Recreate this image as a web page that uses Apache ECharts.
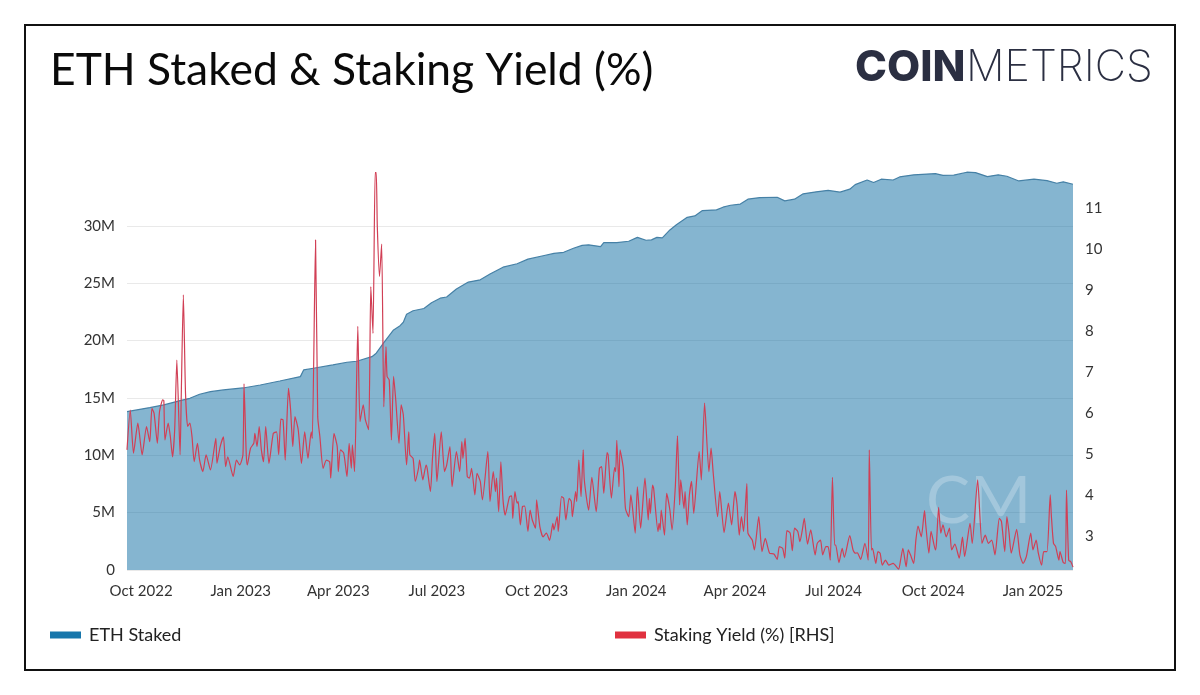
<!DOCTYPE html>
<html>
<head>
<meta charset="utf-8">
<title>ETH Staked & Staking Yield (%)</title>
<script src="https://cdn.jsdelivr.net/npm/echarts@6/dist/echarts.min.js"></script>
<style>
html, body { margin: 0; padding: 0; background: #fff; }
#main { width: 1200px; height: 695px; }
</style>
</head>
<body>
<div id="main"></div>
<script>
// days counted from 18 Sep 2022
var stakedDays = [0,21,34,49,58,67,77,89,107,123,141,160,163,172,190,203,212,226,230,237,246,252,255,258,264,274,281,289,295,304,315,326,335,347,360,370,384,394,403,412,420,426,437,440,452,463,471,479,484,489,494,501,507,517,524,531,544,550,557,566,573,584,600,607,616,624,636,647,658,667,672,683,689,696,707,713,726,746,753,763,775,783,794,804,812,823,837,849,858,864,873];
var stakedValues = [13.8,14.16,14.39,14.77,14.97,15.32,15.55,15.7,15.87,16.13,16.48,16.86,17.44,17.59,17.88,18.11,18.2,18.6,18.9,19.83,20.93,21.3,21.6,22.3,22.6,22.8,23.3,23.7,23.8,24.5,25.1,25.3,25.8,26.4,26.7,27.1,27.4,27.6,27.7,28.05,28.3,28.35,28.2,28.55,28.55,28.66,29.0,28.75,28.78,29.0,28.95,29.65,30.1,30.75,30.87,31.34,31.4,31.63,31.8,31.9,32.33,32.47,32.5,32.18,32.33,32.8,32.97,33.1,32.94,33.2,33.6,34.0,33.78,34.07,34.0,34.27,34.45,34.56,34.4,34.42,34.68,34.65,34.3,34.45,34.33,33.92,34.07,33.95,33.72,33.84,33.63];

var yieldDays = [0,3,6,10,14,18,21,23,25,28,30,33,34,35,38,40,42,44,46,49,50,52,54,56,58,60,62,65,67,70,73,77,82,83,86,89,91,93,98,101,104,107,108,110,111,114,117,118,120,122,124,126,128,131,135,138,140,142,144,146,149,151,153,155,158,161,164,167,170,171,174,176,178,181,184,187,188,191,194,195,197,200,203,205,207,208,210,213,215,218,220,223,225,227,229,230,231,233,235,237,239,240,242,244,246,248,251,253,255,258,260,261,264,266,269,
    270,273,276,277,280,282,284,286,290,293,295,298,300,304,307,309,310,312,314,316,318,321,323,326,328,333,335,338,340,341,343,345,347,349,353,355,356,358,360,361,363,365,367,370,372,374,377,378,381,384,387,390,393,394,397,398,401,403,405,408,410,411,414,415,417,419,421,422,426,429,433,436,438,440,443,444,447,450,451,452,454,455,458,460,463,465,469,471,474,478,481,482,483,485,486,490,491,492,493,496,498,501,503,506,508,510,511,514,515,517,519,521,523,528,530,533,537,539,541,545,547,551,555,558,561,563,565,
    567,569,572,573,577,579,583,586,589,593,597,600,602,605,607,609,612,614,616,619,621,623,625,628,631,635,637,640,642,645,647,649,651,653,654,657,660,662,667,670,672,674,677,681,684,685,687,688,691,693,695,697,700,703,707,712,714,716,719,721,723,726,728,730,733,736,737,740,742,746,747,749,751,753,756,759,761,764,768,771,773,778,780,785,789,792,795,798,801,805,807,810,812,814,816,821,824,827,830,834,836,839,841,844,846,849,852,853,855,857,860,861,864,866,867,869,871,873];
var yieldValues = [5.10,6.07,5.02,5.75,4.98,5.67,5.30,6.11,5.99,5.26,6.03,6.32,6.30,5.34,5.75,5.42,4.93,5.59,7.29,4.98,6.32,8.88,6.48,5.67,5.75,5.42,4.81,5.26,4.85,4.57,4.98,4.61,5.38,4.77,5.18,5.42,4.69,4.93,4.45,4.85,4.73,4.98,6.71,5.02,4.73,5.14,5.26,5.50,5.18,5.67,5.10,4.81,5.67,4.77,5.50,5.54,4.98,5.85,5.83,4.85,6.60,6.07,5.18,5.91,5.59,4.77,5.54,4.89,5.54,5.38,10.22,5.91,5.42,4.65,4.85,4.81,4.41,5.50,5.18,4.57,5.10,5.02,4.45,5.26,4.65,5.22,4.57,8.11,5.79,6.20,5.83,5.59,9.08,7.94,11.86,11.86,10.54,9.33,10.12,6.15,7.62,6.89,6.80,5.34,6.89,6.32,5.26,6.20,5.95,4.73,5.54,4.98,4.89,4.33,4.65,
    4.85,4.37,4.73,4.65,4.08,4.93,5.50,4.33,5.54,4.57,4.73,5.18,4.20,5.06,4.57,5.30,4.89,5.38,4.45,4.41,4.65,4.00,4.53,4.33,3.88,5.06,3.84,4.57,4.08,4.41,3.59,4.81,3.88,3.51,3.96,3.98,3.43,4.08,3.80,3.84,3.27,3.72,3.73,3.11,3.63,3.39,3.19,3.88,3.23,2.98,3.07,2.89,3.31,3.15,3.47,3.11,3.96,3.92,3.39,3.92,3.84,3.47,4.08,3.84,4.85,3.96,5.10,4.37,3.63,4.43,3.59,4.65,4.69,4.04,5.03,4.98,3.92,4.67,4.57,5.33,4.20,5.10,4.65,3.67,3.47,4.00,3.07,4.20,3.19,4.41,3.39,3.92,3.55,4.24,4.16,3.11,3.31,3.15,3.63,3.02,4.04,3.63,3.15,4.20,5.44,3.76,4.37,3.67,4.08,3.27,4.00,4.33,3.55,5.06,4.37,6.24,4.57,5.14,4.53,3.47,4.08,3.08,3.80,3.27,4.08,3.76,3.02,
    3.47,3.11,4.28,3.07,2.90,2.66,3.47,2.62,2.94,2.58,2.56,2.43,2.74,2.70,2.46,3.13,3.07,2.64,3.19,3.11,2.86,3.11,3.43,2.80,3.15,2.54,2.82,2.90,2.54,2.74,2.74,2.41,4.43,2.78,2.78,2.35,2.70,2.48,3.01,2.66,2.58,2.59,2.43,2.82,2.41,5.10,2.66,2.70,2.33,2.62,2.58,2.29,2.41,2.29,2.33,2.19,2.43,2.70,2.25,2.66,2.54,2.33,2.90,3.24,2.98,3.62,3.31,2.58,3.11,2.66,2.82,3.70,3.07,3.27,2.98,3.19,2.66,2.80,2.46,2.97,2.50,3.31,2.82,4.37,2.82,3.02,2.82,2.90,2.54,3.43,3.35,2.62,3.47,3.07,2.58,3.16,2.54,2.33,2.50,3.07,2.66,2.90,2.58,2.29,2.62,2.62,4.00,3.51,2.82,2.74,2.41,2.62,2.35,2.33,4.12,2.41,2.37,2.24];

var tickDays = [13,105,195,286,378,470,561,652,744,836];
var tickLabels = ['Oct 2022','Jan 2023','Apr 2023','Jul 2023','Oct 2023','Jan 2024','Apr 2024','Jul 2024','Oct 2024','Jan 2025'];
var yieldTicks = [3,4,5,6,7,8,9,10,11];

function pairs(days, values, scale) {
    return days.map(function (d, i) { return [d, values[i] * scale]; });
}

var fontName = 'Lato';
var myChart = echarts.init(document.getElementById('main'), null, { renderer: 'canvas' });

var option = {
    backgroundColor: '#fff',
    animation: false,
    textStyle: { fontFamily: fontName },
    title: {
        text: 'ETH Staked & Staking Yield (%)',
        left: 50,
        top: 49,
        padding: 0,
        textStyle: { fontFamily: fontName, fontSize: 44.4, fontWeight: 400, color: '#0a0a0a' }
    },
    legend: [{
        data: ['ETH Staked'],
        left: 50,
        top: 626,
        padding: 0,
        icon: 'rect',
        itemWidth: 31,
        itemHeight: 7,
        textStyle: { fontFamily: fontName, fontSize: 18, color: '#222', padding: [0, 0, 0, 3] }
    }, {
        data: ['Staking Yield (%) [RHS]'],
        left: 615,
        top: 626,
        padding: 0,
        icon: 'rect',
        itemWidth: 31,
        itemHeight: 7,
        textStyle: { fontFamily: fontName, fontSize: 18, color: '#222', padding: [0, 0, 0, 3] }
    }],
    grid: { left: 127, right: 127, top: 168.55, bottom: 125 },
    xAxis: {
        type: 'value',
        min: 0,
        max: 873,
        splitLine: { show: false },
        axisLine: { show: false },
        axisTick: { show: false },
        axisLabel: {
            customValues: tickDays,
            margin: 14,
            fontSize: 15,
            color: '#333',
            formatter: function (v) { return tickLabels[tickDays.indexOf(v)]; }
        }
    },
    yAxis: [{
        type: 'value',
        min: 0,
        max: 35000000,
        interval: 5000000,
        axisLine: { show: false },
        axisTick: { show: false },
        splitLine: { show: true, showMaxLine: false, lineStyle: { color: '#e9e9e9', width: 1 } },
        axisLabel: {
            showMaxLabel: false,
            margin: 12,
            fontSize: 15,
            color: '#333',
            formatter: function (v) { return v === 0 ? '0' : (v / 1000000) + 'M'; }
        }
    }, {
        type: 'value',
        position: 'right',
        min: 2.17,
        max: 11.96,
        splitLine: { show: false },
        axisLine: { show: false },
        axisTick: { show: false },
        axisLabel: {
            customValues: yieldTicks,
            margin: 12,
            fontSize: 15,
            color: '#333'
        }
    }],
    series: [{
        name: 'ETH Staked',
        type: 'line',
        yAxisIndex: 0,
        z: 2,
        symbol: 'none',
        data: pairs(stakedDays, stakedValues, 1000000),
        itemStyle: { color: '#1776ab' },
        lineStyle: { color: '#4681a6', width: 1.2 },
        areaStyle: { color: '#0b6ba1', opacity: 0.5 }
    }, {
        name: 'Staking Yield (%) [RHS]',
        type: 'line',
        yAxisIndex: 1,
        z: 5,
        symbol: 'none',
        smooth: 0.2,
        data: pairs(yieldDays, yieldValues, 1),
        itemStyle: { color: '#e0313f' },
        lineStyle: { color: '#d13f55', width: 1.2 }
    }],
    graphic: [{
        type: 'rect',
        silent: true,
        shape: { x: 25, y: 25, width: 1150, height: 645 },
        style: { fill: 'none', stroke: '#111', lineWidth: 2 }
    }, {
        type: 'text',
        silent: true,
        left: 855,
        top: 47,
        style: { text: 'COIN', font: '800 43px Inter', fill: '#2b2f42' }
    }, {
        type: 'text',
        silent: true,
        left: 966,
        top: 47,
        style: { text: 'METRICS', font: '200 43px Inter', fill: '#2b2f42' }
    }, {
        type: 'text',
        silent: true,
        z: 3,
        left: 926,
        top: 469,
        style: { text: 'CM', font: '400 66px Lato', fill: 'rgba(255,255,255,0.25)' }
    }]
};
myChart.setOption(option);
</script>
</body>
</html>
